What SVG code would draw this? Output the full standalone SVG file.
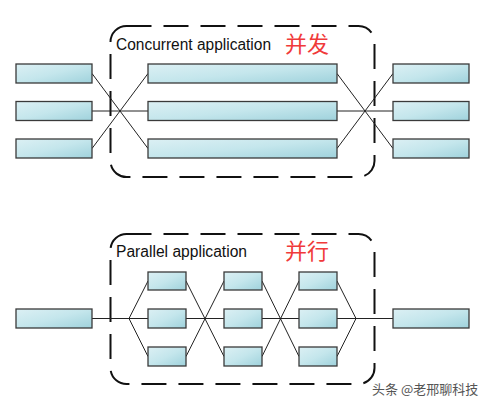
<svg xmlns="http://www.w3.org/2000/svg" width="482" height="406" viewBox="0 0 482 406">
<defs>
<linearGradient id="g" x1="0" y1="0" x2="1" y2="1">
<stop offset="0" stop-color="#dcf0f4"/>
<stop offset="0.5" stop-color="#c4e6ec"/>
<stop offset="1" stop-color="#9fd2dc"/>
</linearGradient>
</defs>
<style>
.b{fill:url(#g);stroke:#3a3a3a;stroke-width:1.3}
.c{fill:none;stroke:#222;stroke-width:1}
.d{fill:none;stroke:#111;stroke-width:2;stroke-dasharray:25 12}
.t{font-family:"Liberation Sans",Arial,sans-serif;font-size:16px;fill:#111}
.z{font-family:"Noto Sans CJK SC",sans-serif;font-size:22px;fill:#f03a3a}
.w{font-family:"Noto Sans CJK SC",sans-serif;font-size:13px;fill:#555}
</style>
<rect width="482" height="406" fill="#fff"/>
<g id="groups">
<rect class="d" x="110.5" y="26" width="264" height="151" rx="16"/>
<rect class="d" x="110.5" y="234" width="264" height="150" rx="16"/>
</g>
<g id="connectors">
<path class="c" d="M92,73.5 L148,148.5 M92,148.5 L148,73.5 M92,111 H148"/>
<path class="c" d="M337,73.5 L393,148.5 M337,148.5 L393,73.5 M337,111 H393"/>
<path class="c" d="M92,318.5 H148 M129,318.5 L148,281 M129,318.5 L148,356.5"/>
<path class="c" d="M186,281 L224,356.5 M186,356.5 L224,281 M186,318.5 H224"/>
<path class="c" d="M262,281 L299,356.5 M262,356.5 L299,281 M262,318.5 H299"/>
<path class="c" d="M337,281 L356,318.5 M337,356.5 L356,318.5 M337,318.5 H393"/>
</g>
<g id="top-in-1"><rect class="b" x="16" y="64" width="76" height="19"/></g>
<g id="top-in-2"><rect class="b" x="16" y="101.5" width="76" height="19"/></g>
<g id="top-in-3"><rect class="b" x="16" y="139" width="76" height="19"/></g>
<g id="top-mid-1"><rect class="b" x="148" y="64" width="189" height="19"/></g>
<g id="top-mid-2"><rect class="b" x="148" y="101.5" width="189" height="19"/></g>
<g id="top-mid-3"><rect class="b" x="148" y="139" width="189" height="19"/></g>
<g id="top-out-1"><rect class="b" x="393" y="64" width="76" height="19"/></g>
<g id="top-out-2"><rect class="b" x="393" y="101.5" width="76" height="19"/></g>
<g id="top-out-3"><rect class="b" x="393" y="139" width="76" height="19"/></g>
<g id="bot-in"><rect class="b" x="16" y="309" width="76" height="19"/></g>
<g id="bot-out"><rect class="b" x="393" y="309" width="76" height="19"/></g>
<g id="p1-1"><rect class="b" x="148" y="272" width="38" height="18"/></g>
<g id="p1-2"><rect class="b" x="148" y="309" width="38" height="19"/></g>
<g id="p1-3"><rect class="b" x="148" y="347" width="38" height="19"/></g>
<g id="p2-1"><rect class="b" x="224" y="272" width="38" height="18"/></g>
<g id="p2-2"><rect class="b" x="224" y="309" width="38" height="19"/></g>
<g id="p2-3"><rect class="b" x="224" y="347" width="38" height="19"/></g>
<g id="p3-1"><rect class="b" x="299" y="272" width="38" height="18"/></g>
<g id="p3-2"><rect class="b" x="299" y="309" width="38" height="19"/></g>
<g id="p3-3"><rect class="b" x="299" y="347" width="38" height="19"/></g>
<g id="labels">
<text class="t" x="116" y="50" textLength="155" lengthAdjust="spacingAndGlyphs">Concurrent application</text>
<text class="z" x="285" y="52">并发</text>
<text class="t" x="116" y="257" textLength="131" lengthAdjust="spacingAndGlyphs">Parallel application</text>
<text class="z" x="285" y="259">并行</text>
<text class="w" x="372" y="394">头条 @老邢聊科技</text>
</g>
</svg>
